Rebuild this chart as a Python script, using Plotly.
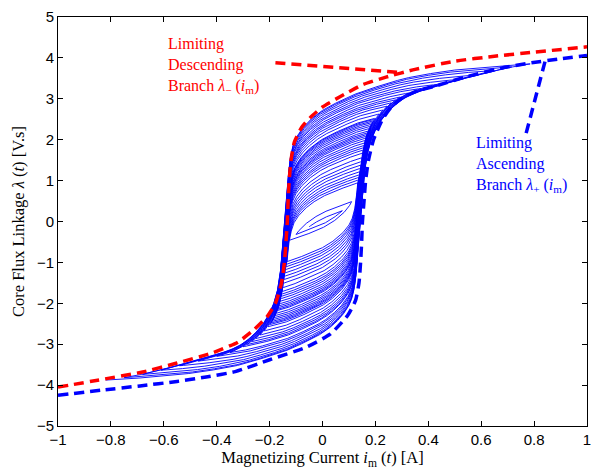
import numpy as np
import plotly.graph_objects as go

# Limiting descending branch lambda_-(i_m)  (red)
desc_i = [-1.0, -0.85, -0.68, -0.55, -0.42, -0.32, -0.26, -0.21, -0.178, -0.155, -0.144, -0.138,
          -0.133, -0.13, -0.126, -0.119, -0.106, -0.078, -0.045, 0.0, 0.066, 0.15, 0.24, 0.35,
          0.5, 0.65, 0.8, 1.0]
desc_l = [-4.05, -3.88, -3.68, -3.46, -3.22, -2.95, -2.65, -2.33, -2.0, -1.5, -1.0, -0.5,
          0.0, 0.5, 1.0, 1.5, 1.95, 2.31, 2.55, 2.8, 3.05, 3.34, 3.53, 3.72,
          3.92, 4.04, 4.14, 4.27]

# Limiting ascending branch lambda_+(i_m)  (blue)
asc_i = [-1.0, -0.83, -0.69, -0.55, -0.44, -0.33, -0.2, -0.06, 0.03, 0.095, 0.125, 0.138,
         0.144, 0.148, 0.151, 0.157, 0.163, 0.174, 0.193, 0.227, 0.26, 0.3, 0.36, 0.42,
         0.55, 0.69, 0.78, 0.9, 1.0]
asc_l = [-4.25, -4.12, -4.02, -3.91, -3.8, -3.67, -3.38, -3.07, -2.75, -2.3, -1.93, -1.5,
         -1.0, -0.5, 0.0, 0.5, 1.0, 1.5, 2.0, 2.5, 2.8, 3.02, 3.2, 3.3,
         3.55, 3.77, 3.87, 3.98, 4.06]

# Reversal points of the magnetizing current (decaying oscillation)
peaks = [-0.820, 0.785, -0.750, 0.715, -0.680, 0.645, -0.610, 0.575, -0.540, 0.505,
         -0.470, 0.435, -0.400, 0.375, -0.350, 0.325, -0.300,
         0.292, -0.284, 0.276, -0.268, 0.260, -0.252, 0.244, -0.236, 0.228, -0.220,
         0.213, -0.206, 0.200,
         -0.198, 0.196, -0.194, 0.192, -0.190, 0.188, -0.186, 0.184, -0.182, 0.180,
         -0.178, 0.176, -0.174, 0.172, -0.170,
         0.169, -0.168, 0.167, -0.166, 0.165, -0.164, 0.163, -0.162, 0.161, -0.160,
         0.159, -0.158, 0.157, -0.156, 0.155, -0.154, 0.153, -0.152, 0.151, -0.150,
         0.149, -0.148, 0.147, -0.146, 0.145, -0.144, 0.143, -0.142, 0.141, -0.140,
         0.139, -0.138, 0.137, -0.136, 0.135, -0.134, 0.133,
         -0.125, 0.110, -0.100, 0.075, -0.050]

# Annotation pointer lines
red_ptr_i = [-0.178, 0.283]
red_ptr_l = [3.88, 3.65]
blue_ptr_i = [0.77, 0.842]
blue_ptr_l = [2.16, 3.93]

x_ticks = [-1, -0.8, -0.6, -0.4, -0.2, 0, 0.2, 0.4, 0.6, 0.8, 1]
x_tick_text = ["\u22121", "\u22120.8", "\u22120.6", "\u22120.4", "\u22120.2", "0", "0.2", "0.4", "0.6", "0.8", "1"]
y_ticks = [-5, -4, -3, -2, -1, 0, 1, 2, 3, 4, 5]
y_tick_text = ["\u22125", "\u22124", "\u22123", "\u22122", "\u22121", "0", "1", "2", "3", "4", "5"]

REV = 0.5  # share of branch slope right after a reversal


def pchip(x, y):
    x = np.asarray(x, float)
    y = np.asarray(y, float)
    h = np.diff(x)
    d = np.diff(y) / h
    m = np.zeros_like(y)
    for k in range(1, len(x) - 1):
        if d[k - 1] * d[k] > 0:
            w1 = 2 * h[k] + h[k - 1]
            w2 = h[k] + 2 * h[k - 1]
            m[k] = (w1 + w2) / (w1 / d[k - 1] + w2 / d[k])
    m[0] = d[0]
    m[-1] = d[-1]

    def evalf(xq):
        xq = np.clip(xq, x[0], x[-1])
        k = np.clip(np.searchsorted(x, xq) - 1, 0, len(x) - 2)
        hk = h[k]
        t = (xq - x[k]) / hk
        f = ((2 * t**3 - 3 * t**2 + 1) * y[k] + (t**3 - 2 * t**2 + t) * hk * m[k]
             + (-2 * t**3 + 3 * t**2) * y[k + 1] + (t**3 - t**2) * hk * m[k + 1])
        df = ((6 * t**2 - 6 * t) * y[k] + (3 * t**2 - 4 * t + 1) * hk * m[k]
              + (-6 * t**2 + 6 * t) * y[k + 1] + (3 * t**2 - 2 * t) * hk * m[k + 1]) / hk
        return f, df
    return evalf


fd = pchip(desc_i, desc_l)
fa = pchip(asc_i, asc_l)

# symmetric model branches built from both read branches
step = 0.0005
grid = np.round(np.arange(-1.0, 1.0 + step / 2, step), 6)
d1, dd1 = fd(grid)
a1, da1 = fa(-grid)
Ld = 0.5 * (d1 - a1)
dLd = 0.5 * (dd1 + da1)
La = -Ld[::-1]
dLa = dLd[::-1]


def slope(idx, lam, up):
    gap = max(Ld[idx] - La[idx], 1e-6)
    if up:
        f = (Ld[idx] - lam) / gap
        return (REV + (1 - REV) * f) * dLa[idx]
    f = (lam - La[idx]) / gap
    return (REV + (1 - REV) * f) * dLd[idx]


idx = int(round((peaks[0] + 1.0) / step))
lam = Ld[idx]
xs = [grid[idx]]
ys = [lam]
for p in peaks[1:]:
    target = int(round((p + 1.0) / step))
    up = target > idx
    s = 1 if up else -1
    while idx != target:
        k1 = slope(idx, lam, up)
        lp = lam + s * step * k1
        k2 = slope(idx + s, lp, up)
        lam = lam + s * step * 0.5 * (k1 + k2)
        idx += s
        lam = min(max(lam, La[idx]), Ld[idx])
        xs.append(grid[idx])
        ys.append(lam)

fig = go.Figure()
fig.add_trace(go.Scatter(x=xs, y=ys, mode="lines", line=dict(color="#0000ff", width=0.9),
                         hoverinfo="skip"))

dash_style = "10px,6px"
fig.add_trace(go.Scatter(x=asc_i, y=asc_l, mode="lines",
                         line=dict(color="#0000ff", width=3.5, dash=dash_style, shape="spline", smoothing=0.5)))
fig.add_trace(go.Scatter(x=desc_i, y=desc_l, mode="lines",
                         line=dict(color="#ff0000", width=3.5, dash=dash_style, shape="spline", smoothing=0.5)))
fig.add_trace(go.Scatter(x=red_ptr_i, y=red_ptr_l, mode="lines",
                         line=dict(color="#ff0000", width=3.5, dash=dash_style)))
fig.add_trace(go.Scatter(x=blue_ptr_i, y=blue_ptr_l, mode="lines",
                         line=dict(color="#0000ff", width=3.5, dash=dash_style)))

serif = "Liberation Serif"
fig.add_annotation(x=-0.591, y=4.62, xref="x", yref="y", xanchor="left", yanchor="top",
                   align="left", showarrow=False,
                   text="Limiting<br>Descending<br>Branch <i>λ</i><sub>−</sub> (<i>i</i><sub>m</sub>)",
                   font=dict(family=serif, size=16, color="#ff0000"))
fig.add_annotation(x=0.572, y=2.2, xref="x", yref="y", xanchor="left", yanchor="top",
                   align="left", showarrow=False,
                   text="Limiting<br>Ascending<br>Branch <i>λ</i><sub>+</sub> (<i>i</i><sub>m</sub>)",
                   font=dict(family=serif, size=16, color="#0000ff"))

axis_common = dict(showline=True, linecolor="black", linewidth=1, mirror="ticks",
                   ticks="inside", ticklen=5, tickcolor="black", showgrid=False, zeroline=False,
                   automargin=False,
                   tickfont=dict(family="Liberation Sans", size=15, color="black"))

fig.update_xaxes(range=[-1, 1], tickvals=x_ticks, ticktext=x_tick_text,
                 title=dict(text="Magnetizing Current <i>i</i><sub>m</sub> (<i>t</i>) [A]",
                            font=dict(family=serif, size=16.5, color="black"), standoff=4),
                 **axis_common)
fig.update_yaxes(range=[-5, 5], tickvals=y_ticks, ticktext=y_tick_text,
                 title=dict(text="Core Flux Linkage <i>λ</i> (<i>t</i>) [V.s]",
                            font=dict(family=serif, size=16.5, color="black"), standoff=8),
                 **axis_common)

fig.update_layout(width=592, height=472, margin=dict(l=58, r=5, t=17, b=46),
                  plot_bgcolor="white", paper_bgcolor="white", showlegend=False)

fig.write_html("out.html", config={"displayModeBar": False},
               post_script="document.body.style.margin='0';document.body.style.padding='0';")
